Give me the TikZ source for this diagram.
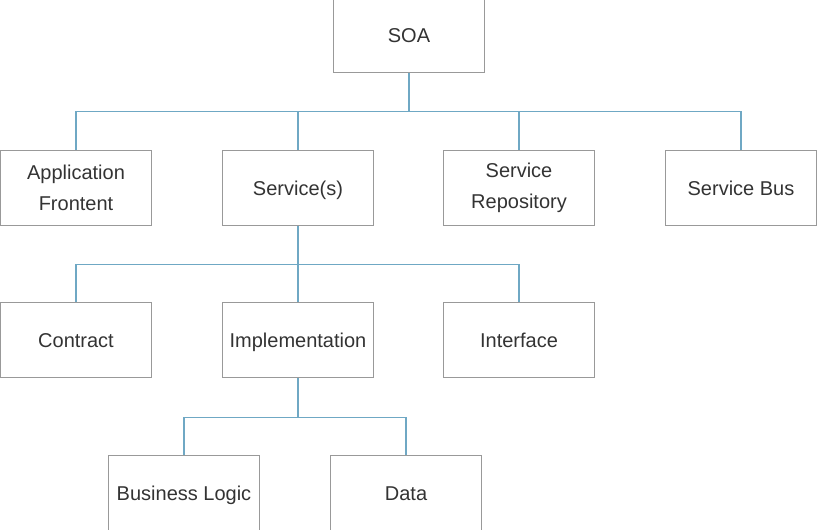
\documentclass[tikz,border=0pt]{standalone}
\usepackage{fontspec}
\setmainfont{Liberation Sans}
\definecolor{boxcol}{HTML}{999999}
\definecolor{linkcol}{HTML}{6FA8C4}
\definecolor{textcol}{HTML}{333333}
\tikzset{
  unit/.style={rectangle, draw=boxcol, line width=1.4pt, minimum width=151pt, minimum height=75pt,
    align=center, text=textcol, font=\fontsize{20}{31}\selectfont, inner sep=0pt},
  oneline/.style={unit, text height=14.5pt, text depth=0pt},
  link/.style={draw=linkcol, line width=1.4pt}
}
\begin{document}
\begin{tikzpicture}[x=1pt, y=-1pt]
\useasboundingbox (0,0) rectangle (833,530);
\clip (0,0) rectangle (833,530);
\draw (409, 35) node[oneline](soa) {SOA} ;
% second level
\draw (76, 188) node[unit](front) {Application\\Frontent} ;
\draw (298, 188) node[oneline](service) {Service(s)} ;
\draw (519, 188) node[unit](repo) {Service\\Repository} ;
\draw (741, 188) node[oneline](bus) {Service Bus} ;
% third level
\draw (76, 340) node[oneline](contract) {Contract} ;
\draw (298, 340) node[oneline](impl) {Implementation} ;
\draw (519, 340) node[oneline](iface) {Interface} ;
% fourth level
\draw (184, 493) node[oneline](logic) {Business Logic} ;
\draw (406, 493) node[oneline](data) {Data} ;
\draw[link] (soa.south) -- ++(0,38) -| (front.north) ;
\draw[link] (soa.south) -- ++(0,38) -| (service.north) ;
\draw[link] (soa.south) -- ++(0,38) -| (repo.north) ;
\draw[link] (soa.south) -- ++(0,38) -| (bus.north) ;
\draw[link] (service.south) -- ++(0,38) -| (contract.north) ;
\draw[link] (service.south) -- ++(0,38) -| (impl.north) ;
\draw[link] (service.south) -- ++(0,38) -| (iface.north) ;
\draw[link] (impl.south) -- ++(0,39) -| (logic.north) ;
\draw[link] (impl.south) -- ++(0,39) -| (data.north) ;
\end{tikzpicture}
\end{document}
